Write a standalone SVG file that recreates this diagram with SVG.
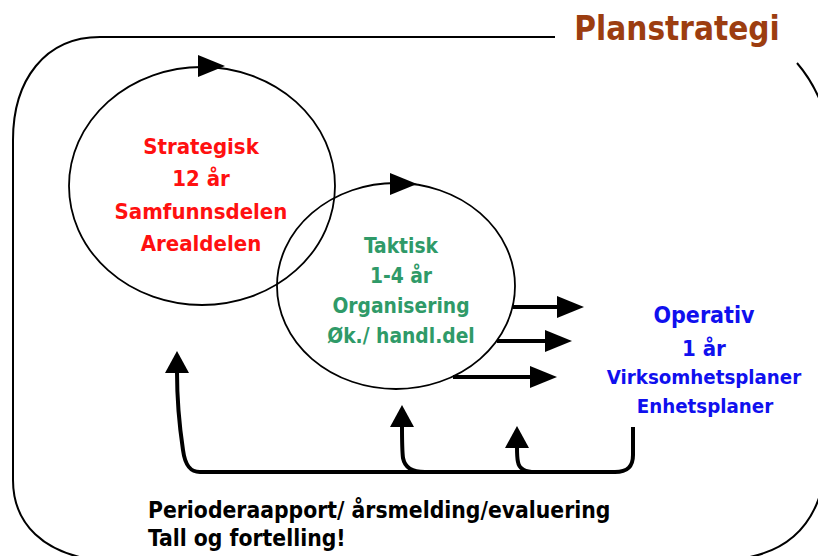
<svg xmlns="http://www.w3.org/2000/svg" width="818" height="556" viewBox="0 0 818 556">
<style>
  .t { font-family: "DejaVu Sans Condensed", "DejaVu Sans", sans-serif; font-stretch: condensed; font-weight: bold; text-anchor: middle; }
  .frame { fill: none; stroke: #000; stroke-width: 2; }
  .ring { fill: none; stroke: #000; stroke-width: 1.8; }
  .flow { fill: none; stroke: #000; stroke-width: 4; }
  .head { fill: #000; }
  .red { fill: #ff1010; font-size: 22px; }
  .green { fill: #2f9a68; font-size: 20.8px; }
  .blue { fill: #1010ee; }
  .black { fill: #000; font-size: 22.7px; text-anchor: start; }
</style>
<defs>
  <marker id="ah" markerUnits="userSpaceOnUse" viewBox="0 0 27 22" markerWidth="27" markerHeight="22" refX="1" refY="11" orient="auto">
    <path d="M0,0 L27,11 L0,22 Z" fill="#000"/>
  </marker>
  <marker id="up" markerUnits="userSpaceOnUse" viewBox="0 0 22 24" markerWidth="22" markerHeight="24" refX="1" refY="12" orient="auto">
    <path d="M0,0 L22,12 L0,24 Z" fill="#000"/>
  </marker>
</defs>
<rect width="818" height="556" fill="#fff"/>

<g id="frame">
  <path class="frame" d="M555,37 L100,37 C45,37 13,80 13,140 L13,480 C13,525 45,553 95,560"/>
  <path class="frame" d="M797,63 Q810,78 819,98"/>
  <path class="frame" d="M819,498 Q802,546 750,557"/>
</g>

<g id="title">
  <text class="t" x="677" y="40" style="font-size:33px;fill:#9c3d10">Planstrategi</text>
</g>

<g id="strategisk">
  <ellipse class="ring" cx="202" cy="186" rx="133" ry="119"/>
  <text class="t red" x="201" y="154">Strategisk</text>
  <text class="t red" x="201" y="186">12 år</text>
  <text class="t red" x="201" y="219">Samfunnsdelen</text>
  <text class="t red" x="201" y="251">Arealdelen</text>
</g>

<g id="taktisk">
  <ellipse class="ring" cx="396" cy="286" rx="119" ry="103"/>
  <text class="t green" x="401" y="253">Taktisk</text>
  <text class="t green" x="401" y="283">1-4 år</text>
  <text class="t green" x="401" y="313">Organisering</text>
  <text class="t green" x="401" y="343">Øk./ handl.del</text>
</g>

<g id="operativ">
  <text class="t blue" x="704" y="323" style="font-size:23px">Operativ</text>
  <text class="t blue" x="704" y="356" style="font-size:22px">1 år</text>
  <text class="t blue" x="704" y="384" style="font-size:20.3px">Virksomhetsplaner</text>
  <text class="t blue" x="705" y="413" style="font-size:20.3px">Enhetsplaner</text>
</g>

<g id="rapport">
  <text class="t black" x="148" y="518">Perioderaapport/ årsmelding/evaluering</text>
  <text class="t black" x="148" y="546">Tall og fortelling!</text>
</g>

<g id="connectors">
  <polygon class="head" points="198,55 225,66 198,77"/>
  <polygon class="head" points="390,173 417,184 390,195"/>
  <line class="flow" x1="513" y1="307" x2="558" y2="307" marker-end="url(#ah)"/>
  <line class="flow" x1="497" y1="341" x2="546" y2="341" marker-end="url(#ah)"/>
  <line class="flow" x1="453" y1="377" x2="531" y2="377" marker-end="url(#ah)"/>
  <path class="flow" d="M633,427 L633,455 C633,466 628,472 615,472 L200,472 C190,472 185,465 183,450 C180,430 177,400 177,372" marker-end="url(#up)"/>
  <path class="flow" d="M425,472 C412,472 405,468 403,458 C402,450 402,440 402,426" marker-end="url(#up)"/>
  <path class="flow" d="M535,472 C524,472 519,468 518,462 C517,458 517,454 517,447" marker-end="url(#up)"/>
</g>
</svg>
